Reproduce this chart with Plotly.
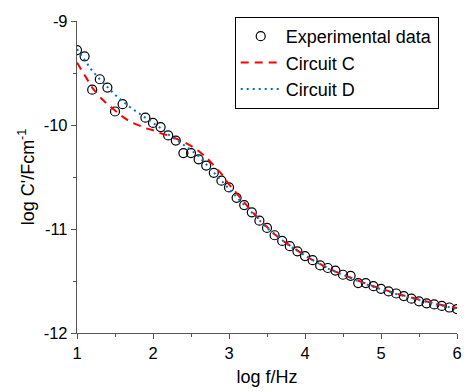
import plotly.graph_objects as go

# Experimental data
exp_x = [1.0, 1.1, 1.2, 1.3, 1.4, 1.5, 1.6, 1.9, 2.0, 2.1, 2.2, 2.3, 2.4, 2.5, 2.6, 2.7, 2.8, 2.9,
         3.0, 3.1, 3.2, 3.3, 3.4, 3.5, 3.6, 3.7, 3.8, 3.9, 4.0, 4.1, 4.2, 4.3, 4.4, 4.5, 4.6, 4.7,
         4.8, 4.9, 5.0, 5.1, 5.2, 5.3, 5.4, 5.5, 5.6, 5.7, 5.8, 5.9, 6.0]
exp_y = [-9.28, -9.34, -9.66, -9.56, -9.64, -9.87, -9.80, -9.93, -9.98, -10.02, -10.10, -10.15,
         -10.27, -10.27, -10.33, -10.39, -10.46, -10.535, -10.60, -10.70, -10.77, -10.84, -10.92,
         -10.99, -11.06, -11.115, -11.165, -11.215, -11.26, -11.30, -11.35, -11.375, -11.40,
         -11.44, -11.45, -11.52, -11.52, -11.55, -11.575, -11.60, -11.62, -11.645, -11.67,
         -11.695, -11.715, -11.725, -11.74, -11.755, -11.77]

# Fitted curves
fit_x = [1.0, 1.1, 1.2, 1.3, 1.4, 1.5, 1.6, 1.7, 1.8, 1.9, 2.0, 2.1, 2.2, 2.3, 2.4, 2.5, 2.6, 2.7,
         2.8, 2.9, 3.0, 3.1, 3.2, 3.3, 3.4, 3.5, 3.6, 3.7, 3.8, 3.9, 4.0, 4.1, 4.2, 4.3, 4.4, 4.5,
         4.6, 4.7, 4.8, 4.9, 5.0, 5.1, 5.2, 5.3, 5.4, 5.5, 5.6, 5.7, 5.8, 5.9, 6.0]
circuit_c = [-9.40, -9.52, -9.64, -9.73, -9.80, -9.86, -9.92, -9.97, -10.00, -10.03, -10.05,
             -10.08, -10.10, -10.13, -10.16, -10.20, -10.25, -10.31, -10.39, -10.47, -10.57,
             -10.66, -10.75, -10.83, -10.91, -10.98, -11.05, -11.11, -11.16, -11.21, -11.255,
             -11.30, -11.34, -11.375, -11.41, -11.44, -11.47, -11.50, -11.525, -11.55, -11.575,
             -11.60, -11.62, -11.64, -11.66, -11.68, -11.70, -11.715, -11.73, -11.745, -11.76]
circuit_d = [-9.27, -9.38, -9.48, -9.56, -9.64, -9.71, -9.77, -9.83, -9.88, -9.93, -9.98,
             -10.03, -10.09, -10.14, -10.19, -10.24, -10.30, -10.38, -10.46, -10.54, -10.61,
             -10.69, -10.77, -10.84, -10.92, -10.99, -11.05, -11.11, -11.165, -11.21, -11.255,
             -11.30, -11.34, -11.38, -11.41, -11.445, -11.475, -11.505, -11.53, -11.555, -11.58,
             -11.60, -11.625, -11.645, -11.665, -11.685, -11.705, -11.72, -11.735, -11.75, -11.77]

x_ticks = [1, 2, 3, 4, 5, 6]
y_ticks = [-12, -11, -10, -9]

FONT = "Liberation Sans, Arial"

fig = go.Figure()
fig.add_trace(go.Scatter(
    x=exp_x, y=exp_y, mode="markers", name="Experimental data",
    marker=dict(symbol="circle-open", size=9, color="black", line=dict(width=1.2, color="black")),
))
fig.add_trace(go.Scatter(
    x=fit_x, y=circuit_c, mode="lines", name="Circuit C",
    line=dict(color="#FF0000", width=2, dash="8px,6px"),
))
fig.add_trace(go.Scatter(
    x=fit_x, y=circuit_d, mode="lines", name="Circuit D",
    line=dict(color="#0072BD", width=2, dash="2px,4px"),
))

axis_common = dict(
    showgrid=False, zeroline=False, showline=True, linecolor="#555555", linewidth=1.3,
    ticks="outside", ticklen=5, tickcolor="#555555", tickwidth=1.3,
    tickfont=dict(family=FONT, size=16.5, color="black"),
    minor=dict(dtick=0.5, ticks="outside", ticklen=3, tickcolor="#555555", tickwidth=1.3),
)

fig.update_layout(
    width=470, height=392,
    margin=dict(l=77, r=8, t=21, b=59),
    paper_bgcolor="white", plot_bgcolor="white",
    font=dict(family=FONT, size=16.5, color="black"),
    xaxis=dict(range=[1, 6], tickvals=x_ticks, ticktext=[str(v) for v in x_ticks],
               title=dict(text="log f/Hz", font=dict(family=FONT, size=18), standoff=9), **axis_common),
    yaxis=dict(range=[-12, -9], tickvals=y_ticks, ticktext=[str(v) for v in y_ticks],
               title=dict(text="log C'/Fcm<sup>-1</sup>", font=dict(family=FONT, size=18), standoff=4),
               **axis_common),
    legend=dict(x=0.415, y=1.013, xanchor="left", yanchor="top",
                bordercolor="black", borderwidth=1, bgcolor="white",
                font=dict(family=FONT, size=18), tracegroupgap=0, itemwidth=40),
    showlegend=True,
)

fig.write_html("out.html")
